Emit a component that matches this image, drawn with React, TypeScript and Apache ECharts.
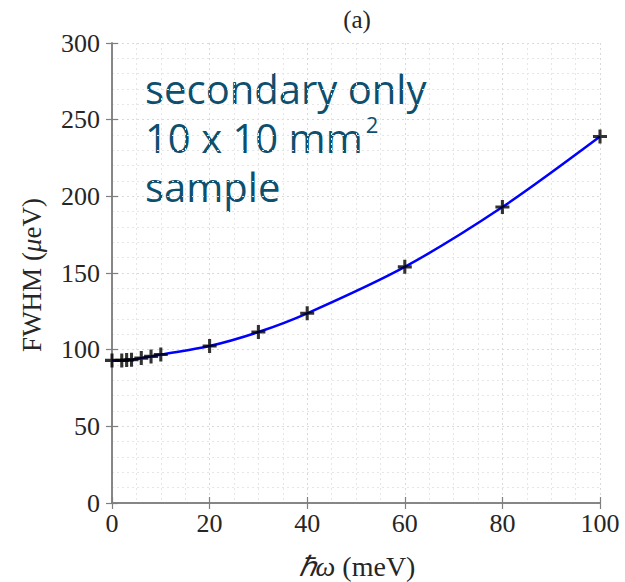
import React, { useEffect, useRef } from "react";
import * as echarts from "echarts";

const energies = [0, 2, 3, 4, 6, 8, 10, 20, 30, 40, 60, 80, 100];
const fwhm = [93, 93, 93.2, 93.5, 94.5, 95.6, 96.8, 102.4, 111.5, 123.7, 154, 193, 239];
const xTicks = [0, 20, 40, 60, 80, 100];
const yTicks = [0, 50, 100, 150, 200, 250, 300];
const noteLines = ["secondary only", "10 x 10 mm", "sample"];
const noteSup = "2";

const SERIF = "Liberation Serif";
const SANS = "Open Sans";

export default function App() {
  const ref = useRef<HTMLDivElement>(null);
  useEffect(() => {
    if (!ref.current) return;
    const chart = echarts.init(ref.current, undefined, { renderer: "svg" });
    const pts = energies.map((e, i) => [e, fwhm[i]]);
    const gridLine = { show: true, lineStyle: { color: "#d9d9d9", type: [2, 3] as any, width: 1 } };
    const minorLine = { show: true, lineStyle: { color: "#e6e6e6", type: [2, 3] as any, width: 1 } };
    const axisLine = { show: true, lineStyle: { color: "#7f7f7f", width: 1.5 } };
    const tick = { show: true, inside: true, length: 6, lineStyle: { color: "#7f7f7f", width: 1.2 } };
    const label = { color: "#262626", fontFamily: SERIF, fontSize: 26, fontWeight: "normal" };
    const txt = { fill: "#262626", fontFamily: SERIF, fontSize: 27 };
    const noteText = noteLines
      .map((t, i) => (i === 1 ? `{n|${t}}{s|${noteSup}}` : `{n|${t}}`))
      .join("\n");
    chart.setOption({
      animation: false,
      backgroundColor: "#ffffff",
      textStyle: { fontFamily: SERIF },
      grid: { left: 112, right: 25, top: 43, bottom: 79, containLabel: false },
      xAxis: [
        {
          type: "value",
          min: xTicks[0],
          max: xTicks[xTicks.length - 1],
          interval: 20,
          position: "bottom",
          axisLine,
          axisTick: tick,
          axisLabel: { ...label, margin: 7 },
          splitLine: gridLine,
          minorTick: { show: false, splitNumber: 4 },
          minorSplitLine: minorLine,
        },
        {
          type: "value",
          min: 0,
          max: 100,
          interval: 20,
          position: "top",
          axisLine,
          axisTick: tick,
          axisLabel: { show: false },
          splitLine: { show: false },
        },
      ],
      yAxis: [
        {
          type: "value",
          min: yTicks[0],
          max: yTicks[yTicks.length - 1],
          interval: 50,
          position: "left",
          axisLine,
          axisTick: tick,
          axisLabel: { ...label, margin: 12 },
          splitLine: gridLine,
          minorTick: { show: false, splitNumber: 5 },
          minorSplitLine: minorLine,
        },
        {
          type: "value",
          min: 0,
          max: 300,
          interval: 50,
          position: "right",
          axisLine,
          axisTick: tick,
          axisLabel: { show: false },
          splitLine: { show: false },
        },
      ],
      series: [
        {
          type: "line",
          data: pts,
          smooth: 0.3,
          showSymbol: false,
          symbol: "none",
          lineStyle: { color: "#0000ff", width: 2.5 },
          z: 2,
        },
        {
          type: "scatter",
          data: pts,
          symbol: "path://M3.9,0 H6.1 V3.9 H10 V6.1 H6.1 V10 H3.9 V6.1 H0 V3.9 H3.9 Z",
          symbolSize: 14,
          itemStyle: { color: "#000000" },
          z: 3,
        },
      ],
      graphic: [
        {
          type: "text",
          x: 357,
          y: 19,
          style: { ...txt, fontSize: 25, text: "(a)", align: "center", verticalAlign: "middle" },
        },
        {
          type: "text",
          x: 145,
          y: 64,
          style: {
            text: noteText,
            verticalAlign: "top",
            rich: {
              n: { fontFamily: SANS, fontSize: 40, lineHeight: 49, fill: "#0d4f6e" },
              s: {
                fontFamily: SANS,
                fontSize: 22,
                lineHeight: 14,
                fill: "#0d4f6e",
                verticalAlign: "top",
                padding: [0, 0, 0, 3],
              },
            },
          },
        },
        {
          type: "text",
          rotation: Math.PI / 2,
          x: 32,
          y: 275,
          style: {
            text: "{n|FWHM (}{i|μ}{n|eV)}",
            rich: {
              n: { ...txt },
              i: { ...txt, fontStyle: "italic" },
            },
            align: "center",
            verticalAlign: "middle",
          },
        },
        {
          type: "text",
          x: 357,
          y: 566,
          style: {
            text: "{i|ℏω}{n| (meV)}",
            rich: {
              n: { ...txt, fontSize: 28 },
              i: { ...txt, fontSize: 28, fontStyle: "italic" },
            },
            align: "center",
            verticalAlign: "middle",
          },
        },
      ],
    });
    return () => chart.dispose();
  }, []);
  return <div ref={ref} style={{ position: "fixed", left: 0, top: 0, width: 625, height: 582 }} />;
}
